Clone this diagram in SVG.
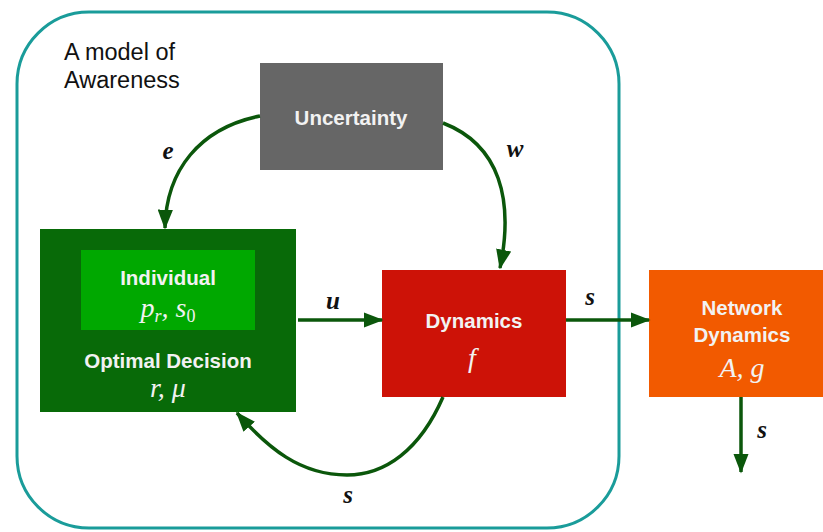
<svg xmlns="http://www.w3.org/2000/svg" width="823" height="532" viewBox="0 0 823 532">
<style>
.lbl{font-family:"Liberation Sans",Arial,sans-serif;font-size:23.5px;fill:#111}
.box{font-family:"Liberation Sans",Arial,sans-serif;font-size:20.5px;font-weight:bold;fill:#f2f2f2;text-anchor:middle}
.math{font-family:"Liberation Serif","Times New Roman",serif;font-style:italic;font-size:28px;fill:#f2f2f2;text-anchor:middle}
.var{font-family:"Liberation Serif","Times New Roman",serif;font-style:italic;font-weight:bold;font-size:25px;fill:#111;text-anchor:middle}
.conn{fill:none;stroke:#0b570b;stroke-width:3.5}
</style>
<defs>
<marker id="ah" viewBox="0 0 13 10" refX="12" refY="5" markerWidth="5.7" markerHeight="4.4" orient="auto" markerUnits="strokeWidth">
<path d="M0,0 L13,5 L0,10 Z" fill="#0b570b"/>
</marker>
</defs>
<rect width="823" height="532" fill="#ffffff"/>
<g id="frame">
<rect x="17" y="12" width="602" height="516" rx="72" ry="72" fill="none" stroke="#1a9c9a" stroke-width="3"/>
<text class="lbl" x="64" y="60">A model of</text>
<text class="lbl" x="64" y="88">Awareness</text>
</g>
<g id="uncertainty">
<rect x="260" y="63" width="183" height="107" fill="#666666"/>
<text class="box" x="351" y="125">Uncertainty</text>
</g>
<g id="decision">
<rect x="40" y="229" width="256" height="183" fill="#086a08"/>
<text class="box" x="168" y="368">Optimal Decision</text>
<text class="math" x="168" y="397">r, μ</text>
</g>
<g id="individual">
<rect x="81" y="250" width="174" height="80" fill="#00a800"/>
<text class="box" x="168" y="285">Individual</text>
<text class="math" x="168" y="317">p<tspan font-size="18" dy="5">r</tspan><tspan dy="-5">, s</tspan><tspan font-size="18" font-style="normal" dy="5">0</tspan></text>
</g>
<g id="dynamics">
<rect x="382" y="270" width="184" height="127" fill="#cd1207"/>
<text class="box" x="474" y="328">Dynamics</text>
<text class="math" x="472" y="367">f</text>
</g>
<g id="network">
<rect x="649" y="270" width="180" height="127" fill="#f25a00"/>
<text class="box" x="742" y="315">Network</text>
<text class="box" x="742" y="342">Dynamics</text>
<text class="math" x="742" y="377">A, g</text>
</g>
<g id="connectors">
<path class="conn" d="M260,116 C200,128 166,170 165,228" marker-end="url(#ah)"/>
<path class="conn" d="M443,123 C500,145 514,200 500,268" marker-end="url(#ah)"/>
<path class="conn" d="M298,320 L382,320" marker-end="url(#ah)"/>
<path class="conn" d="M566,320 L649,320" marker-end="url(#ah)"/>
<path class="conn" d="M443,397 C420,450 385,475 347,475 C300,475 268,448 237,413" marker-end="url(#ah)"/>
<path class="conn" d="M741,397 L741,472" marker-end="url(#ah)"/>
<text class="var" x="168" y="159">e</text>
<text class="var" x="515" y="157">w</text>
<text class="var" x="333" y="309">u</text>
<text class="var" x="590" y="305">s</text>
<text class="var" x="348" y="503">s</text>
<text class="var" x="762" y="438">s</text>
</g>
</svg>
